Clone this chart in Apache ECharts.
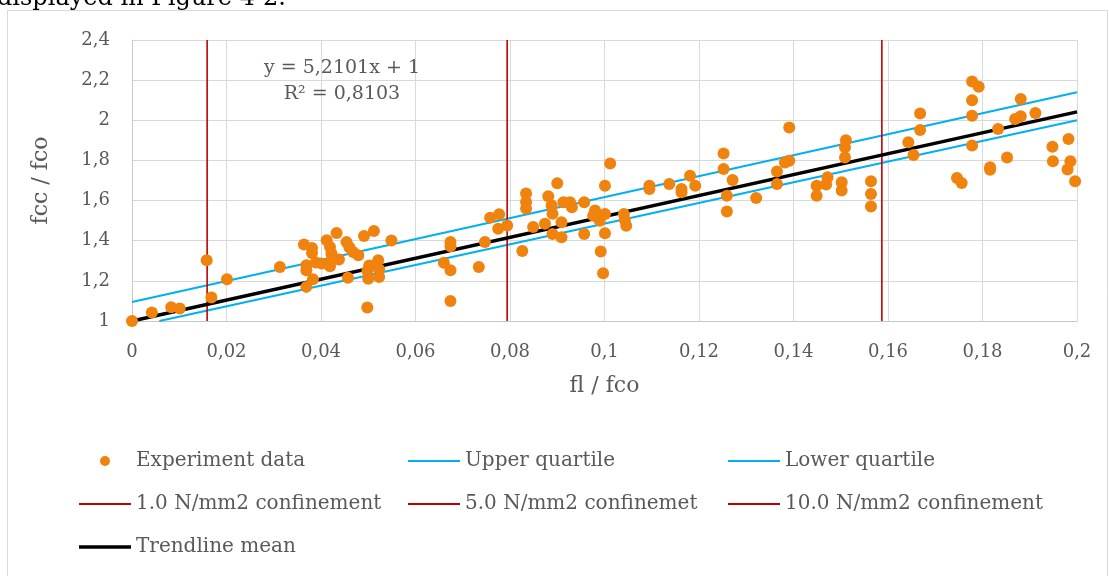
<!DOCTYPE html>
<html>
<head>
<meta charset="utf-8">
<script src="https://cdn.jsdelivr.net/npm/echarts@6/dist/echarts.min.js"></script>
<style>
html,body{margin:0;padding:0;background:#fff;}
#chart{width:1109px;height:576px;}
</style>
</head>
<body>
<div id="chart"></div>
<script>
// ---- data ----
const expX = [
  0, 0.0042, 0.0083, 0.0101, 0.0158, 0.0168, 0.0201, 0.0313,
  0.0364, 0.0381, 0.0381, 0.0369, 0.0369, 0.0369, 0.0383, 0.0389, 0.0401,
  0.0412, 0.0419, 0.0422, 0.0422, 0.0419, 0.0433, 0.0438, 0.0454, 0.0460,
  0.0457, 0.0479, 0.0468, 0.0491, 0.0512, 0.0502, 0.0498, 0.0500, 0.0498,
  0.0521, 0.0523, 0.0523, 0.0549,
  0.0660, 0.0674, 0.0674, 0.0674, 0.0674, 0.0734, 0.0747, 0.0758, 0.0777,
  0.0775, 0.0794, 0.0826, 0.0834, 0.0834, 0.0834, 0.0849, 0.0874, 0.0881,
  0.0888, 0.0890, 0.0890, 0.0900, 0.0909, 0.0909, 0.0913, 0.0927, 0.0931,
  0.0957, 0.0957, 0.0980, 0.0976, 0.0990, 0.1001, 0.1001, 0.1012, 0.1001,
  0.0992, 0.0997, 0.1041, 0.1043, 0.1046, 0.1095, 0.1095, 0.1137, 0.1163,
  0.1163, 0.1181, 0.1192, 0.1252, 0.1252, 0.1271, 0.1259, 0.1259, 0.1321,
  0.1365, 0.1365, 0.1382, 0.1391, 0.1391, 0.1449, 0.1449, 0.1472, 0.1469,
  0.1502, 0.1502, 0.1511, 0.1509, 0.1509, 0.1564, 0.1564, 0.1564,
  0.1643, 0.1654, 0.1668, 0.1668, 0.1746, 0.1756, 0.1778, 0.1792, 0.1778,
  0.1778, 0.1778, 0.1816, 0.1816, 0.1833, 0.1852, 0.1869, 0.1881, 0.1881,
  0.1912, 0.1948, 0.1949, 0.1982, 0.1986, 0.1980, 0.1996
];
const expY = [
  1.000, 1.042, 1.069, 1.062, 1.303, 1.117, 1.208, 1.269,
  1.381, 1.364, 1.339, 1.278, 1.253, 1.170, 1.208, 1.292, 1.286,
  1.402, 1.369, 1.336, 1.303, 1.273, 1.439, 1.306, 1.393, 1.368,
  1.216, 1.327, 1.344, 1.423, 1.448, 1.277, 1.249, 1.211, 1.067,
  1.303, 1.256, 1.219, 1.401,
  1.290, 1.394, 1.373, 1.253, 1.100, 1.269, 1.394, 1.515, 1.532,
  1.460, 1.476, 1.349, 1.635, 1.593, 1.560, 1.468, 1.485, 1.622,
  1.576, 1.534, 1.434, 1.686, 1.492, 1.417, 1.592, 1.592, 1.567,
  1.592, 1.434, 1.550, 1.525, 1.500, 1.533, 1.674, 1.785, 1.437,
  1.346, 1.238, 1.533, 1.503, 1.475, 1.674, 1.658, 1.683, 1.658,
  1.641, 1.724, 1.674, 1.835, 1.757, 1.702, 1.624, 1.545, 1.613,
  1.745, 1.682, 1.790, 1.798, 1.964, 1.674, 1.624, 1.716, 1.680,
  1.691, 1.650, 1.901, 1.865, 1.815, 1.696, 1.633, 1.570,
  1.890, 1.827, 2.034, 1.952, 1.713, 1.688, 2.193, 2.167, 2.100,
  2.023, 1.874, 1.766, 1.753, 1.957, 1.815, 2.006, 2.020, 2.106,
  2.036, 1.868, 1.796, 1.907, 1.796, 1.755, 1.696
];
const upperX = [0, 0.2];
const upperY = [1.095, 2.14];
const lowerX = [0.0058, 0.2];
const lowerY = [1.0, 2.0];
const trendX = [0, 0.2];
const trendY = [1.0, 2.042];
const confinementX = [0.0159, 0.0794, 0.1587];
const confinementNames = ['1.0 N/mm2 confinement', '5.0 N/mm2 confinemet', '10.0 N/mm2 confinement'];
const confinementY = [1.0, 2.4];
const xTickLabels = ['0','0,02','0,04','0,06','0,08','0,1','0,12','0,14','0,16','0,18','0,2'];
const yTickLabels = ['1','1,2','1,4','1,6','1,8','2','2,2','2,4'];
const equationText = 'y = 5,2101x + 1';
const r2Text = 'R\u00B2 = 0,8103';

// ---- chart ----
const FONT = '"DejaVu Serif", "Liberation Serif", serif';
const TXT = '#595959';
const chart = echarts.init(document.getElementById('chart'), null, {renderer: 'canvas'});

const pairs = (xs, ys) => xs.map((x, i) => [x, ys[i]]);
const thinIcon = 'path://M0,0H52V2H0Z';
const thickIcon = 'path://M0,0H52V3.6H0Z';

const series = [
  {
    name: 'Upper quartile', type: 'line', data: pairs(upperX, upperY),
    symbol: 'none', lineStyle: {color: '#00B0F0', width: 2}, itemStyle: {color: '#00B0F0'}, z: 2
  },
  {
    name: 'Lower quartile', type: 'line', data: pairs(lowerX, lowerY),
    symbol: 'none', lineStyle: {color: '#00B0F0', width: 2}, itemStyle: {color: '#00B0F0'}, z: 2
  }
];
confinementX.forEach((cx, i) => {
  series.push({
    name: confinementNames[i], type: 'line',
    data: confinementY.map(y => [cx, y]),
    symbol: 'none', lineStyle: {color: '#C00000', width: 1.6}, itemStyle: {color: '#C00000'}, z: 2
  });
});
series.push({
  name: 'Trendline mean', type: 'line', data: pairs(trendX, trendY),
  symbol: 'none', lineStyle: {color: '#000000', width: 3.5}, itemStyle: {color: '#000000'}, z: 3
});
series.push({
  name: 'Experiment data', type: 'scatter', data: pairs(expX, expY),
  symbol: 'circle', symbolSize: 12, itemStyle: {color: '#F0820E', opacity: 1}, z: 4
});

const legendBase = {
  orient: 'vertical', itemWidth: 52, itemHeight: 10, itemGap: 21,
  textStyle: {fontFamily: FONT, fontSize: 20, color: TXT, lineHeight: 22},
  selectedMode: false
};

chart.setOption({
  animation: false,
  backgroundColor: '#ffffff',
  grid: {left: 132, right: 32, top: 40, bottom: 255, containLabel: false},
  xAxis: {
    type: 'value', min: 0, max: 0.2, interval: 0.02,
    name: 'fl / fco', nameLocation: 'middle', nameGap: 54,
    nameTextStyle: {fontFamily: FONT, fontSize: 22, color: TXT},
    axisLine: {show: true, lineStyle: {color: '#c8c8c8', width: 1}},
    axisTick: {show: false},
    axisLabel: {
      margin: 22, fontFamily: FONT, fontSize: 18, color: TXT,
      formatter: v => xTickLabels[Math.round(v / 0.02)]
    },
    splitLine: {show: true, lineStyle: {color: '#d9d9d9', width: 1}}
  },
  yAxis: {
    type: 'value', min: 1, max: 2.4, interval: 0.2,
    name: 'fcc / fco', nameLocation: 'middle', nameGap: 80, nameRotate: 90,
    nameTextStyle: {fontFamily: FONT, fontSize: 22, color: TXT},
    axisLine: {show: true, lineStyle: {color: '#c8c8c8', width: 1}},
    axisTick: {show: false},
    axisLabel: {
      margin: 22, fontFamily: FONT, fontSize: 18, color: TXT,
      formatter: v => yTickLabels[Math.round((v - 1) / 0.2)]
    },
    splitLine: {show: true, lineStyle: {color: '#d9d9d9', width: 1}}
  },
  legend: [
    Object.assign({}, legendBase, {
      left: 74, top: 445,
      data: [
        {name: 'Experiment data', icon: 'circle'},
        {name: '1.0 N/mm2 confinement', icon: thinIcon},
        {name: 'Trendline mean', icon: thickIcon}
      ]
    }),
    Object.assign({}, legendBase, {
      left: 403, top: 445,
      data: [{name: 'Upper quartile', icon: thinIcon}, {name: '5.0 N/mm2 confinemet', icon: thinIcon}]
    }),
    Object.assign({}, legendBase, {
      left: 723, top: 445,
      data: [{name: 'Lower quartile', icon: thinIcon}, {name: '10.0 N/mm2 confinement', icon: thinIcon}]
    })
  ],
  graphic: [
    {
      type: 'rect', silent: true, z: -10,
      shape: {x: 7.5, y: 10.5, width: 1100, height: 600},
      style: {fill: 'none', stroke: '#d9d9d9', lineWidth: 1}
    },
    {
      type: 'text', silent: true, x: -3, y: -1,
      style: {text: 'displayed in Figure 4-2.', font: '24px ' + FONT, fill: '#000000', verticalAlign: 'middle'}
    },
    {
      type: 'text', silent: true, x: 342, y: 68, z: 100,
      style: {text: equationText, font: '19px ' + FONT, fill: TXT, align: 'center', verticalAlign: 'middle'}
    },
    {
      type: 'text', silent: true, x: 342, y: 94, z: 100,
      style: {text: r2Text, font: '19px ' + FONT, fill: TXT, align: 'center', verticalAlign: 'middle'}
    }
  ],
  series: series
});
</script>
</body>
</html>
